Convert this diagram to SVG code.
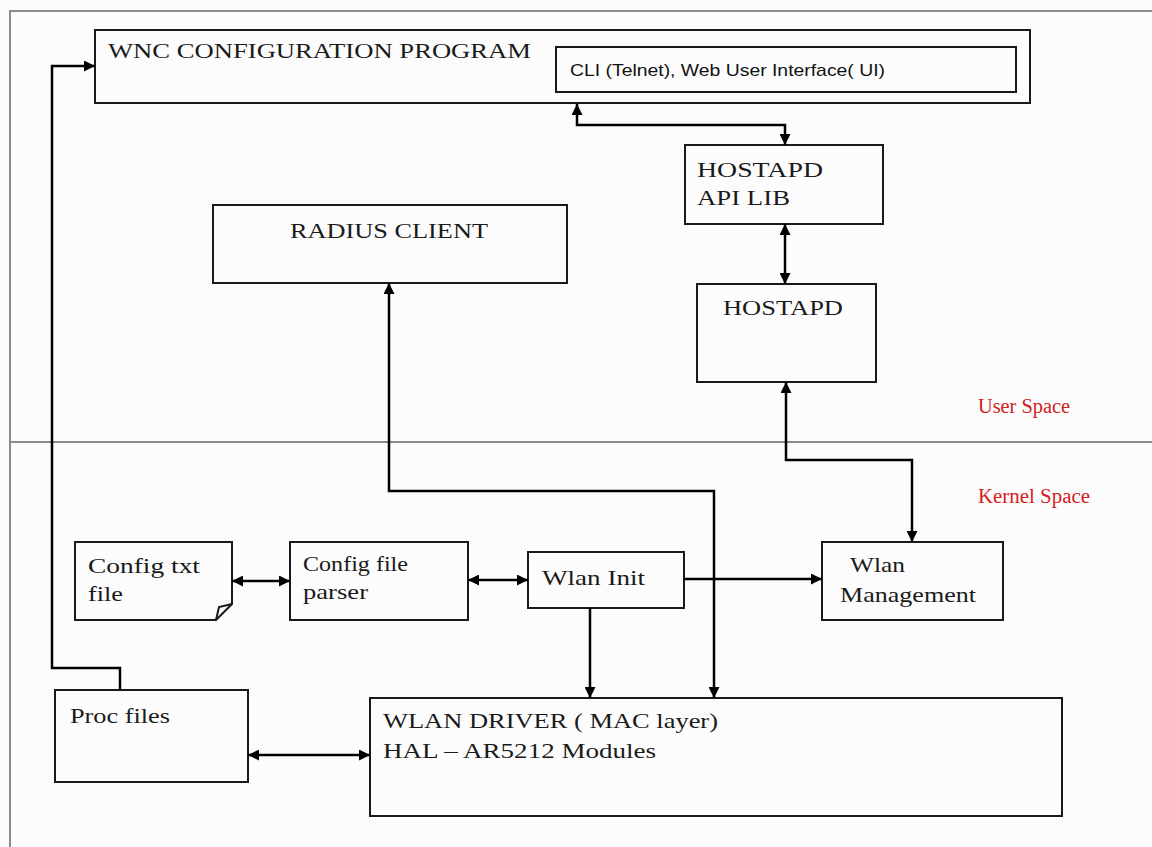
<svg xmlns="http://www.w3.org/2000/svg" width="1152" height="847" viewBox="0 0 1152 847">
<style>
.box{fill:none;stroke:#1a1a1a;stroke-width:2}
.frame{fill:none;stroke:#8a8a8a;stroke-width:2}
.t{font-family:"Liberation Serif","Times New Roman",serif;font-size:21px;fill:#1a1a1a}
.s{font-family:"Liberation Sans",Arial,sans-serif;font-size:17px;fill:#111}
.r{font-family:"Liberation Serif","Times New Roman",serif;font-size:20px;fill:#d42020}
.c{fill:none;stroke:#000;stroke-width:2.5}
</style>
<defs>
<marker id="arr" viewBox="0 0 10 10" refX="10" refY="5" markerWidth="11" markerHeight="11" markerUnits="userSpaceOnUse" orient="auto-start-reverse">
<path d="M0,0 L10,5 L0,10 z" fill="#000"/>
</marker>
</defs>
<rect width="1152" height="847" fill="#fcfcfc"/>
<g id="frame">
<path class="frame" d="M10,860 V11 H1160"/>
<line class="frame" x1="10" y1="442" x2="1152" y2="442"/>
</g>
<g id="wnc">
<rect class="box" x="95" y="30" width="935" height="73"/>
<text class="t" x="108" y="58" textLength="423" lengthAdjust="spacingAndGlyphs">WNC CONFIGURATION PROGRAM</text>
</g>
<g id="cli">
<rect class="box" x="556" y="47" width="460" height="45" fill="#fff"/>
<text class="s" x="570" y="76" textLength="315" lengthAdjust="spacingAndGlyphs">CLI (Telnet), Web User Interface( UI)</text>
</g>
<g id="hostapd-api">
<rect class="box" x="685" y="145" width="198" height="79"/>
<text class="t" x="697" y="177" textLength="126" lengthAdjust="spacingAndGlyphs">HOSTAPD</text>
<text class="t" x="697" y="205" textLength="93" lengthAdjust="spacingAndGlyphs">API LIB</text>
</g>
<g id="radius">
<rect class="box" x="213" y="205" width="354" height="78"/>
<text class="t" x="290" y="238" textLength="198" lengthAdjust="spacingAndGlyphs">RADIUS CLIENT</text>
</g>
<g id="hostapd">
<rect class="box" x="697" y="284" width="179" height="98"/>
<text class="t" x="723" y="315" textLength="120" lengthAdjust="spacingAndGlyphs">HOSTAPD</text>
</g>
<g id="labels">
<text class="r" x="978" y="413" textLength="92" lengthAdjust="spacingAndGlyphs">User Space</text>
<text class="r" x="978" y="503" textLength="112" lengthAdjust="spacingAndGlyphs">Kernel Space</text>
</g>
<g id="config-txt">
<path class="box" d="M75,542 H232 V604 L216,620 H75 Z"/>
<path class="box" stroke-width="1.2" d="M232,604 L219,607 L216,620"/>
<text class="t" x="88" y="573" textLength="112" lengthAdjust="spacingAndGlyphs">Config txt</text>
<text class="t" x="88" y="601" textLength="35" lengthAdjust="spacingAndGlyphs">file</text>
</g>
<g id="config-parser">
<rect class="box" x="290" y="542" width="178" height="78"/>
<text class="t" x="303" y="571" font-size="19" textLength="105" lengthAdjust="spacingAndGlyphs">Config file</text>
<text class="t" x="303" y="599" font-size="19" textLength="65" lengthAdjust="spacingAndGlyphs">parser</text>
</g>
<g id="wlan-init">
<rect class="box" x="528" y="552" width="156" height="56"/>
<text class="t" x="542" y="585" textLength="103" lengthAdjust="spacingAndGlyphs">Wlan Init</text>
</g>
<g id="wlan-mgmt">
<rect class="box" x="822" y="542" width="181" height="78"/>
<text class="t" x="850" y="572" textLength="55" lengthAdjust="spacingAndGlyphs">Wlan</text>
<text class="t" x="840" y="602" textLength="136" lengthAdjust="spacingAndGlyphs">Management</text>
</g>
<g id="proc">
<rect class="box" x="55" y="690" width="193" height="92"/>
<text class="t" x="70" y="723" textLength="100" lengthAdjust="spacingAndGlyphs">Proc files</text>
</g>
<g id="driver">
<rect class="box" x="370" y="698" width="692" height="118"/>
<text class="t" x="383" y="728" textLength="335" lengthAdjust="spacingAndGlyphs">WLAN DRIVER ( MAC layer)</text>
<text class="t" x="383" y="758" textLength="273" lengthAdjust="spacingAndGlyphs">HAL – AR5212 Modules</text>
</g>
<g id="connectors">
<path class="c" d="M120,690 V668 H52 V66 H95" marker-end="url(#arr)"/>
<path class="c" d="M577,104 V125 H785 V145" marker-start="url(#arr)" marker-end="url(#arr)"/>
<path class="c" d="M785,224 V284" marker-start="url(#arr)" marker-end="url(#arr)"/>
<path class="c" d="M912,542 V460 H786 V382" marker-start="url(#arr)" marker-end="url(#arr)"/>
<path class="c" d="M714,698 V491 H389 V283" marker-start="url(#arr)" marker-end="url(#arr)"/>
<path class="c" d="M232,581 H290" marker-start="url(#arr)" marker-end="url(#arr)"/>
<path class="c" d="M468,580 H528" marker-start="url(#arr)" marker-end="url(#arr)"/>
<path class="c" d="M684,579 H822" marker-end="url(#arr)"/>
<path class="c" d="M590,608 V698" marker-end="url(#arr)"/>
<path class="c" d="M248,755 H370" stroke-width="3" marker-start="url(#arr)" marker-end="url(#arr)"/>
</g>
</svg>
